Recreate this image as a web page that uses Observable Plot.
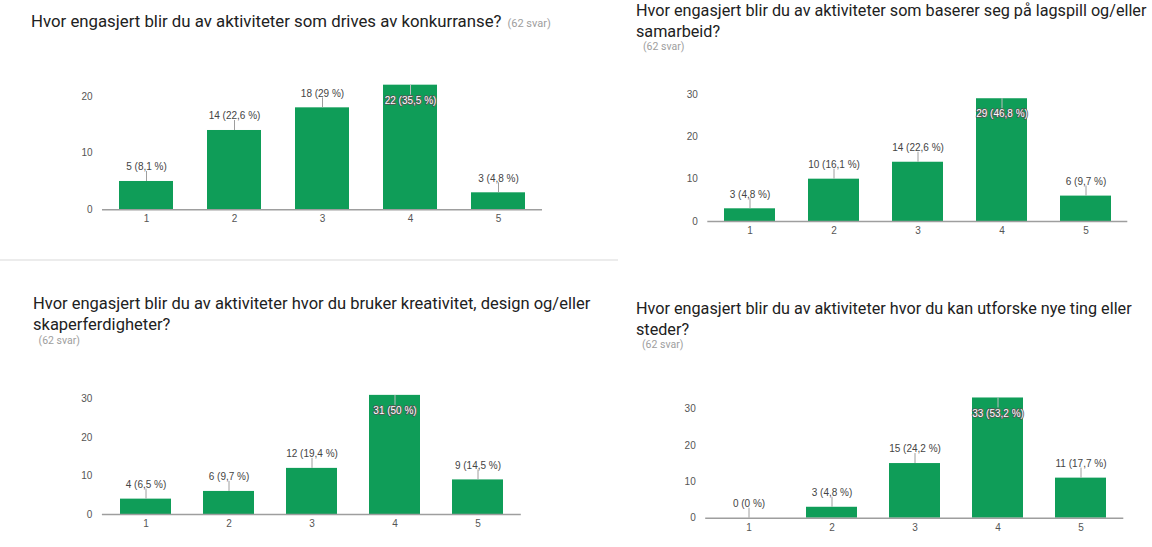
<!DOCTYPE html>
<html>
<head>
<meta charset="utf-8">
<script src="https://cdn.jsdelivr.net/npm/d3@7"></script>
<script src="https://cdn.jsdelivr.net/npm/@observablehq/plot@0.6"></script>
<style>
  html, body { margin: 0; padding: 0; background: #fff; }
  #root { position: relative; width: 1152px; height: 547px; overflow: hidden; font-family: Roboto, "Liberation Sans", sans-serif; }
  .title { position: absolute; line-height: 21px; color: #212121; white-space: nowrap; }
  .resp { font-size: 10.5px; color: #9e9e9e; line-height: 12px; white-space: nowrap; }
  .resp.abs { position: absolute; }
  .chart { position: absolute; }
  .chart svg { display: block; }
  .divider { position: absolute; left: 0; top: 259px; width: 618px; height: 1.5px; background: #ececec; }
</style>
</head>
<body>
<div id="root"><div class="divider"></div></div>
<script>
// ---------- data ----------
const categories = ["1", "2", "3", "4", "5"];

const titles = [
  ["Hvor engasjert blir du av aktiviteter som drives av konkurranse?"],
  ["Hvor engasjert blir du av aktiviteter som baserer seg på lagspill og/eller", "samarbeid?"],
  ["Hvor engasjert blir du av aktiviteter hvor du bruker kreativitet, design og/eller", "skaperferdigheter?"],
  ["Hvor engasjert blir du av aktiviteter hvor du kan utforske nye ting eller", "steder?"]
];
const responses = "(62 svar)";

const counts1 = [5, 14, 18, 22, 3];
const pct1 = ["8,1", "22,6", "29", "35,5", "4,8"];
const counts2 = [3, 10, 14, 29, 6];
const pct2 = ["4,8", "16,1", "22,6", "46,8", "9,7"];
const counts3 = [4, 6, 12, 31, 9];
const pct3 = ["6,5", "9,7", "19,4", "50", "14,5"];
const counts4 = [0, 3, 15, 33, 11];
const pct4 = ["0", "4,8", "24,2", "53,2", "17,7"];

const yTicks1 = [0, 10, 20];
const yTicks2 = [0, 10, 20, 30];
const yMax = [22, 30, 31, 33];

// ---------- layout (positions only) ----------
const layout = [
  {left: 0,   top: 60,  width: 576, height: 180, x0: 102,   x1: 542,    zeroY: 209.3, tL: 31,    tT: 11.2,  tF: 16.8, rL: null,  rT: null, xPad: 5.5},
  {left: 576, top: 60,  width: 576, height: 190, x0: 707.3, x1: 1127.3, zeroY: 221,   tL: 636,   tT: 0.4,   tF: 16.2, rL: 643,   rT: 40.5, xPad: 5.5},
  {left: 0,   top: 360, width: 576, height: 187, x0: 101.9, x1: 520.8,  zeroY: 514,   tL: 33,    tT: 293,   tF: 16.5, rL: 38.6,  rT: 334.5, xPad: 5},
  {left: 576, top: 360, width: 576, height: 187, x0: 705.2, x1: 1123.3, zeroY: 517.7, tL: 636,   tT: 298.4, tF: 16.2, rL: 642,   rT: 338.5, xPad: 5.5}
];
const pxPerUnit = [5.665, 4.233, 3.843, 3.643];

const panels = [
  {counts: counts1, pct: pct1, ticks: yTicks1},
  {counts: counts2, pct: pct2, ticks: yTicks2},
  {counts: counts3, pct: pct3, ticks: yTicks2},
  {counts: counts4, pct: pct4, ticks: yTicks2}
];

const root = document.getElementById("root");
const GREEN = "#0f9d58";

panels.forEach((p, i) => {
  const L = layout[i];
  // title
  const t = document.createElement("div");
  t.className = "title";
  t.style.left = L.tL + "px";
  t.style.top = L.tT + "px";
  t.style.fontSize = L.tF + "px";
  t.innerHTML = titles[i].join("<br>");
  if (L.rL === null) {
    const s = document.createElement("span");
    s.className = "resp";
    s.style.marginLeft = "6px";
    s.style.fontSize = "11px";
    s.textContent = responses;
    t.appendChild(s);
  }
  root.appendChild(t);
  if (L.rL !== null) {
    const r = document.createElement("div");
    r.className = "resp abs";
    r.style.left = L.rL + "px";
    r.style.top = L.rT + "px";
    r.textContent = responses;
    root.appendChild(r);
  }

  const max = d3.max(p.counts);
  const rows = categories.map((c, j) => ({
    cat: c,
    count: p.counts[j],
    label: `${p.counts[j]} (${p.pct[j]} %)`,
    inside: p.counts[j] === max
  }));
  const ppu = pxPerUnit[i];
  const topY = L.zeroY - yMax[i] * ppu;
  const lead = 10 / ppu;

  const chart = Plot.plot({
    width: L.width,
    height: L.height,
    marginLeft: L.x0 - L.left,
    marginRight: L.left + L.width - L.x1,
    marginTop: topY - L.top,
    marginBottom: L.top + L.height - L.zeroY,
    style: {fontFamily: '"Liberation Sans", Arial, sans-serif', fontSize: "10px", color: "#555", background: "transparent", overflow: "visible"},
    x: {type: "band", domain: categories, paddingInner: 0.39, paddingOuter: 0.195, tickSize: 0, tickPadding: L.xPad, label: null},
    y: {domain: [0, yMax[i]], ticks: p.ticks, tickSize: 0, tickPadding: 10, label: null, nice: false},
    marks: [
      Plot.barY(rows, {x: "cat", y: "count", fill: GREEN}),
      Plot.ruleY([0], {stroke: "#9e9e9e", strokeWidth: 1.5}),
      Plot.ruleX(rows.filter(d => !d.inside), {x: "cat", y1: "count", y2: d => d.count + lead, stroke: "#9e9e9e", strokeWidth: 1}),
      Plot.ruleX(rows.filter(d => d.inside), {x: "cat", y1: "count", y2: d => d.count - lead, stroke: "#bdbdbd", strokeWidth: 1}),
      Plot.text(rows.filter(d => !d.inside), {x: "cat", y: "count", text: "label", dy: -14.5, fill: "#444", fontSize: 10}),
      Plot.text(rows.filter(d => d.inside), {x: "cat", y: "count", text: "label", dy: 15.5, fill: "white", stroke: "#555", strokeWidth: 1.6, fontSize: 10})
    ]
  });
  const wrap = document.createElement("div");
  wrap.className = "chart";
  wrap.style.left = L.left + "px";
  wrap.style.top = L.top + "px";
  wrap.appendChild(chart);
  root.appendChild(wrap);
});
</script>
</body>
</html>
